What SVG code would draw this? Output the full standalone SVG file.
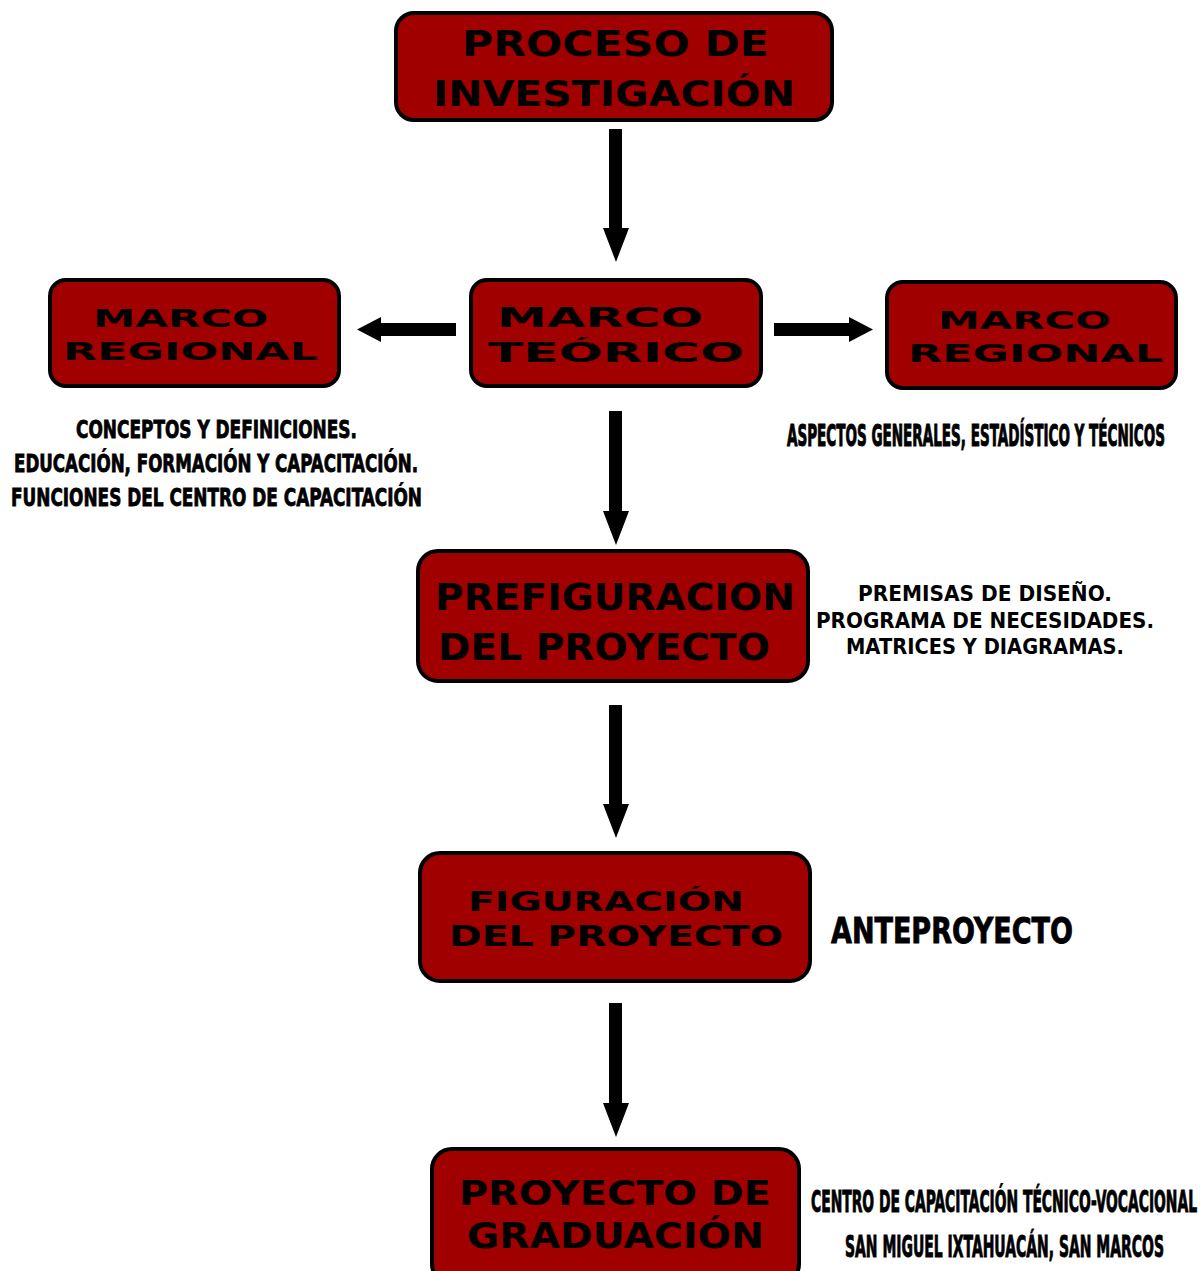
<svg xmlns="http://www.w3.org/2000/svg" width="1203" height="1271" viewBox="0 0 1203 1271">
<style>
.box{fill:#a00000;stroke:#000;stroke-width:4}
.bt{font-family:"DejaVu Sans",sans-serif;font-weight:bold;fill:#000}
.ct{font-family:"Liberation Sans Narrow","DejaVu Sans Condensed",sans-serif;font-weight:bold;fill:#000;stroke:#000;stroke-width:0.8}
.cs{font-family:"Liberation Sans Narrow","DejaVu Sans Condensed",sans-serif;font-weight:bold;fill:#000;stroke:#000;stroke-width:0.5}
.et{font-family:"DejaVu Sans",sans-serif;font-weight:bold;fill:#000}
.arr{fill:#000}
</style>
<rect width="1203" height="1271" fill="#fff"/>
<g id="connectors">
<polygon class="arr" points="609,129 622,129 622,228 629,228 616,262 603,228 609,228"/>
<polygon class="arr" points="609,411 622,411 622,511 629,511 616,545 603,511 609,511"/>
<polygon class="arr" points="609,705 622,705 622,804 629,804 616,838 603,804 609,804"/>
<polygon class="arr" points="609,1003 622,1003 622,1103 629,1103 616,1137 603,1103 609,1103"/>
<polygon class="arr" points="456,323 381,323 381,317 357,329.5 381,342 381,336 456,336"/>
<polygon class="arr" points="774,323 849,323 849,317 873,329.5 849,342 849,336 774,336"/>
</g>
<g id="n1">
<rect class="box" x="396" y="13" width="436" height="107" rx="18"/>
<text class="bt" x="462" y="56" font-size="36" textLength="307" lengthAdjust="spacingAndGlyphs">PROCESO DE</text>
<text class="bt" x="433" y="106" font-size="36" textLength="362" lengthAdjust="spacingAndGlyphs">INVESTIGACIÓN</text>
</g>
<g id="n2">
<rect class="box" x="50" y="280" width="289" height="106" rx="16"/>
<text class="bt" x="93" y="327" font-size="24" textLength="175" lengthAdjust="spacingAndGlyphs">MARCO</text>
<text class="bt" x="63" y="360" font-size="24" textLength="255" lengthAdjust="spacingAndGlyphs">REGIONAL</text>
</g>
<g id="n3">
<rect class="box" x="471" y="280" width="290" height="106" rx="16"/>
<text class="bt" x="497" y="327" font-size="26" textLength="206" lengthAdjust="spacingAndGlyphs">MARCO</text>
<text class="bt" x="488" y="362" font-size="26" textLength="256" lengthAdjust="spacingAndGlyphs">TEÓRICO</text>
</g>
<g id="n4">
<rect class="box" x="887" y="282" width="289" height="106" rx="16"/>
<text class="bt" x="938" y="329" font-size="24" textLength="173" lengthAdjust="spacingAndGlyphs">MARCO</text>
<text class="bt" x="908" y="362" font-size="24" textLength="255" lengthAdjust="spacingAndGlyphs">REGIONAL</text>
</g>
<g id="t1">
<text class="ct" x="76" y="438" font-size="25" textLength="281" lengthAdjust="spacingAndGlyphs">CONCEPTOS Y DEFINICIONES.</text>
<text class="ct" x="14" y="472" font-size="25" textLength="404" lengthAdjust="spacingAndGlyphs">EDUCACIÓN, FORMACIÓN Y CAPACITACIÓN.</text>
<text class="ct" x="11" y="506" font-size="25" textLength="411" lengthAdjust="spacingAndGlyphs">FUNCIONES DEL CENTRO DE CAPACITACIÓN</text>
</g>
<g id="t2">
<text class="cs" transform="translate(787,446) scale(1,2.1)" x="0" y="0" font-size="14.3" textLength="378" lengthAdjust="spacingAndGlyphs">ASPECTOS GENERALES, ESTADÍSTICO Y TÉCNICOS</text>
</g>
<g id="n5">
<rect class="box" x="418" y="551" width="390" height="130" rx="20"/>
<text class="bt" x="435" y="610" font-size="37" textLength="360" lengthAdjust="spacingAndGlyphs">PREFIGURACION</text>
<text class="bt" x="438" y="660" font-size="37" textLength="332" lengthAdjust="spacingAndGlyphs">DEL PROYECTO</text>
</g>
<g id="t3">
<text class="et" x="858" y="601" font-size="22" textLength="254" lengthAdjust="spacingAndGlyphs">PREMISAS DE DISEÑO.</text>
<text class="et" x="816" y="628" font-size="22" textLength="338" lengthAdjust="spacingAndGlyphs">PROGRAMA DE NECESIDADES.</text>
<text class="et" x="846" y="654" font-size="22" textLength="278" lengthAdjust="spacingAndGlyphs">MATRICES Y DIAGRAMAS.</text>
</g>
<g id="n6">
<rect class="box" x="420" y="853" width="390" height="128" rx="20"/>
<text class="bt" x="468" y="911" font-size="27" textLength="276" lengthAdjust="spacingAndGlyphs">FIGURACIÓN</text>
<text class="bt" x="449" y="946" font-size="28" textLength="334" lengthAdjust="spacingAndGlyphs">DEL PROYECTO</text>
</g>
<g id="t4">
<text class="ct" x="831" y="943" font-size="36" textLength="242" lengthAdjust="spacingAndGlyphs">ANTEPROYECTO</text>
</g>
<g id="n7">
<rect class="box" x="432" y="1149" width="367" height="135" rx="20"/>
<text class="bt" x="459" y="1205" font-size="34" textLength="312" lengthAdjust="spacingAndGlyphs">PROYECTO DE</text>
<text class="bt" x="467" y="1248" font-size="36" textLength="297" lengthAdjust="spacingAndGlyphs">GRADUACIÓN</text>
</g>
<g id="t5">
<text class="cs" transform="translate(811,1212) scale(1,1.9)" x="0" y="0" font-size="15.5" textLength="386" lengthAdjust="spacingAndGlyphs">CENTRO DE CAPACITACIÓN TÉCNICO-VOCACIONAL</text>
<text class="cs" transform="translate(845,1257) scale(1,1.8)" x="0" y="0" font-size="16.5" textLength="319" lengthAdjust="spacingAndGlyphs">SAN MIGUEL IXTAHUACÁN, SAN MARCOS</text>
</g>
</svg>
